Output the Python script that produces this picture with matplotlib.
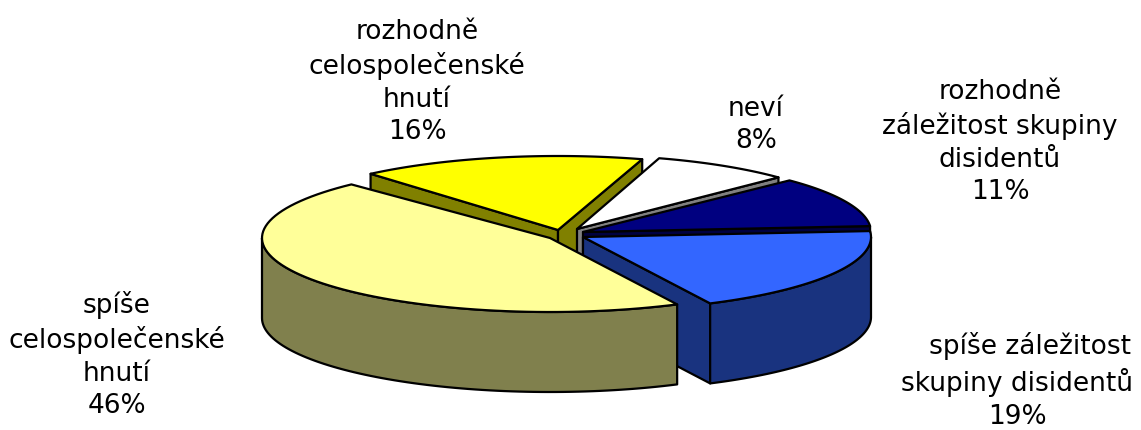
import numpy as np
import matplotlib
matplotlib.use('Agg')
import matplotlib.pyplot as plt
from matplotlib.patches import Polygon

# hodnoty v procentech, po smeru hodinovych rucicek
labels = ['neví', 'rozhodně\nzáležitost skupiny\ndisidentů',
          '\u00a0\u00a0\u00a0spíše záležitost\nskupiny disidentů',
          'spíše\ncelospolečenské\nhnutí', 'rozhodně\ncelospolečenské\nhnutí']
values = [8, 11, 19, 46, 16]

top_colors = ['#FFFFFF', '#000080', '#3366FF', '#FFFF99', '#FFFF00']
side_colors = ['#808080', '#000040', '#19337F', '#80804D', '#808000']

# vrcholy vysek v pixelech obrazku
apex = [(577, 229), (583, 232), (583, 237), (550, 238), (558, 230)]
label_pos = [(756, 125), (1000, 142), (1017, 381), (117, 355), (417, 82)]
# poradi kresleni odzadu dopredu
zorder = [2, 3, 4, 5, 1]
# vzadu je kolac v perspektive trochu jinak, drobne korekce
rx = [281, 288, 288, 288, 288]
end_trim = [0, 0, 0, 3, 0]

RY = 74
H = 80
START = 73

fig = plt.figure(figsize=(11.41, 4.30), dpi=100)
ax = fig.add_axes([0, 0, 1, 1])
ax.set_xlim(0, 1141)
ax.set_ylim(430, 0)
ax.axis('off')


def rim(c, r, a1, a2):
    t = np.radians(np.linspace(a1, a2, 80))
    return np.column_stack([c[0] + r * np.cos(t), c[1] - RY * np.sin(t)])


def face(pts, color, z):
    ax.add_patch(Polygon(pts, closed=True, facecolor=color, edgecolor='black',
                         linewidth=1.6, joinstyle='round', zorder=z))


def draw_slice(c, r, a1, a2, top, side, z):
    c = np.array(c, dtype=float)
    down = np.array([0, H])
    edge1 = rim(c, r, a1, a1)[0]
    edge2 = rim(c, r, a2, a2)[0]
    # radialni steny, jen ty ktere jsou videt
    if np.cos(np.radians(a1)) < 0:
        face([c, edge1, edge1 + down, c + down], side, z)
    if np.cos(np.radians(a2)) > 0:
        face([c, edge2, edge2 + down, c + down], side, z)
    # vnejsi plast - predni cast oblouku
    hi = min(a1, 0)
    lo = max(a2, -180)
    if hi > lo:
        arc = rim(c, r, hi, lo)
        face(np.vstack([arc, (arc + down)[::-1]]), side, z)
    face(np.vstack([[c], rim(c, r, a1, a2)]), top, z)


angles = START - np.cumsum([0] + values) * 3.6
for i in range(len(values)):
    draw_slice(apex[i], rx[i], angles[i], angles[i + 1] + end_trim[i],
               top_colors[i], side_colors[i], zorder[i])

for name, val, pos in zip(labels, values, label_pos):
    ax.text(pos[0], pos[1], f'{name}\n{val}%', ha='center', va='center',
            fontsize=19, linespacing=1.33, color='black', family='DejaVu Sans', zorder=10)

fig.savefig('out.png', dpi=100)
